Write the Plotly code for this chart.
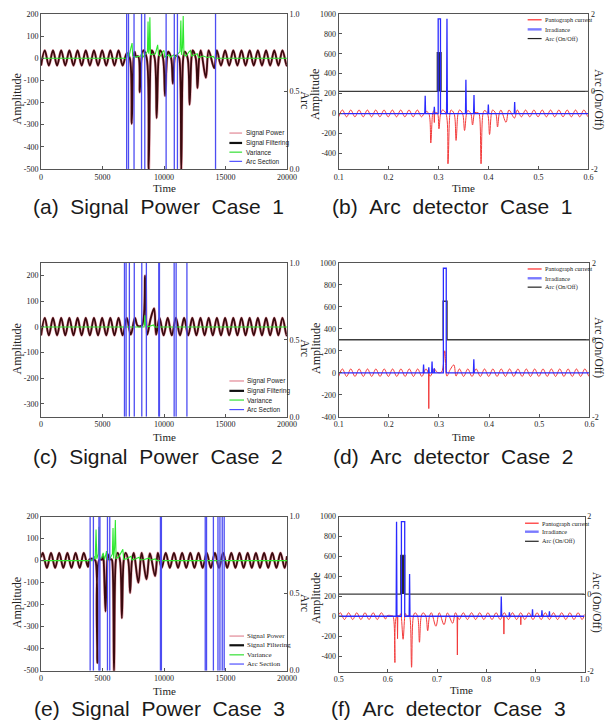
import plotly.graph_objects as go

W, H = 616, 728
FS = 40000.0  # samples per second (Time axis of the left panels is in samples)

# ---------------- data ----------------
# Case 1 : signal key points (time in samples, amplitude)
c1_t = [0, 300, 633, 967, 1300, 1633, 1967, 2300, 2633, 2967, 3300, 3633, 3967, 4300, 4633, 4967, 5300, 5633, 5967, 6300, 6633,
        6967, 7216, 7376, 7536, 7620, 7720, 7900, 8028, 8170, 8320,
        8592, 8752, 8912, 9000, 9240, 9400, 9560, 9680, 9920, 10080,
        10240, 10340, 10580, 10720, 10860, 10920, 11150, 11240, 11400, 11560,
        11680, 11920, 12080, 12230, 12330, 12580, 12720, 12860, 12990, 13400,
        13633, 14080, 14300, 14633, 14967, 15300, 15633, 15967, 16300, 16633,
        16967, 17300, 17633, 17967, 18300, 18633, 18967, 19300, 19633, 19967, 20000]
c1_v = [-33, 35, -33, 35, -33, 35, -33, 35, -33, 35, -33, 35, -33, 35, -33, 35, -33, 35, -33, 35, -33,
        22, 0, -296, 5, 28, 8, 8, -154, 0, 35,
        0, -505, 0, 35, 0, -270, 0, 35, 0, -170,
        0, 30, 0, -115, 0, 10, 8, 0, -505, 0,
        30, 0, -210, 0, 35, 0, -135, 0, 35, -88,
        35, -45, 35, -33, 35, -33, 35, -33, 35, -33,
        35, -33, 35, -33, 35, -33, 35, -33, 35, -33, -32]
c1_var_t = [0, 6950, 7100, 7150, 7300, 7400, 7450, 7600, 8100, 8200, 8300, 8650, 8700, 8750, 8800, 8850, 8900, 9300, 9400, 9480,
            9550, 9700, 9900, 10000, 10050, 10400, 10500, 10800, 10900, 11300, 11370, 11420, 11500, 11560, 11620, 11800, 12050, 12150, 12250, 12500,
            12700, 12800, 13200, 13500, 14000, 14100, 20000]
c1_var_v = [0, 0, 30, 5, 45, 68, 10, 5, 10, 25, 5, 30, 165, 20, 40, 185, 15, 20, 50, 60,
            15, 10, 30, 35, 5, 15, 3, 15, 5, 30, 170, 15, 50, 190, 15, 10, 30, 35, 10, 15,
            20, 3, 10, 3, 8, 0, 0]
c1_arc_sections = [6960, 7110, 7560, 8170, 8435, 10170, 10835, 11090, 14190]
c1_t0 = 0.1
c1_narrow_t = [0.2915]
c1_narrow_v = [-90]
c1_irr_t = [0.2732, 0.2915, 0.3168, 0.3547, 0.3709, 0.3996, 0.4523]
c1_irr_v = [178, 68, 950, 340, 185, 90, 115]
c1_irr_pulse = [0.2992, 0.3038, 950]
c1_arc_on = [0.2975, 0.3050]

# Case 2
c2_t = [0, 300, 633, 967, 1300, 1633, 1967, 2300, 2633, 2967, 3300, 3633, 3967, 4300, 4633, 4967, 5300, 5633, 5967, 6300,
        6633, 6967, 7300, 7633, 7850, 8200, 8464, 8633, 8900, 9190, 9360, 9633, 9967, 10300, 10633, 10967, 11300, 11633, 11967, 12300,
        12633, 12967, 13300, 13633, 13967, 14300, 14633, 14967, 15300, 15633, 15967, 16300, 16633, 16967, 17300, 17633, 17967, 18300, 18633, 18967,
        19300, 19633, 19967, 20000]
c2_v = [-33, 35, -33, 35, -33, 35, -33, 35, -33, 35, -33, 35, -33, 35, -33, 35, -33, 35, -33, 35,
        -33, 35, -30, 35, 5, 6, 200, -30, 30, 72, -30, 35, -33, 35, -33, 35, -33, 35, -33, 35,
        -33, 35, -33, 35, -33, 35, -33, 35, -33, 35, -33, 35, -33, 35, -33, 35, -33, 35, -33, 35,
        -33, 35, -33, -32]
c2_var_t = [0, 8380, 8440, 8490, 8560, 8620, 9150, 9230, 20000]
c2_var_v = [0, 0, 45, 5, 15, 0, 8, 0, 0]
c2_arc_sections = [6782, 6915, 7181, 7580, 8191, 8564, 9574, 9628, 10824, 10984, 11862]
c2_t0 = 0.1
c2_narrow_t = [0.2797]
c2_narrow_v = [-325]
c2_irr_t = [0.2693, 0.2797, 0.2862, 0.2905, 0.3695, 0.4535]
c2_irr_v = [76, 50, 103, 40, 124, 10]
c2_irr_pulse = [0.3088, 0.3145, 950]
c2_arc_on = [0.3083, 0.3161]

# Case 3
c3_t = [0, 140, 473, 807, 1140, 1473, 1807, 2140, 2473, 2807, 3140, 3473, 3807, 3950, 4300, 4420, 4575, 4730, 4970, 5030,
        5090, 5240, 5380, 5440, 5520, 5720, 5780, 5930, 6080, 6220,
        6420, 6570, 6720, 6870, 7090, 7240, 7390, 7540, 7910, 8180,
        8570, 8850, 9270, 9500, 9807, 10140, 10473, 10807, 11140, 11473,
        11807, 12140, 12473, 12807, 13140, 13473, 13807, 14140, 14473, 14807,
        15140, 15473, 15807, 16140, 16473, 16807, 17140, 17473, 17807, 18140,
        18473, 18807, 19140, 19473, 19807, 20000]
c3_v = [15, 35, -33, 35, -33, 35, -33, 35, -33, 35, -33, 35, -28, 6, 6, 0, -465, 3, 6, 25,
        0, -231, 0, 28, 6, 6, 0, -512, 0, 35,
        0, -261, 0, 35, 0, -146, 0, 35, -100, 35,
        -85, 33, -70, 35, -33, 35, -33, 35, -33, 35,
        -33, 35, -33, 35, -33, 35, -33, 35, -33, 35,
        -33, 35, -33, 35, -33, 35, -33, 35, -33, 35,
        -33, 35, -33, 35, -33, 20]
c3_var_t = [0, 4150, 4300, 4400, 4470, 4530, 4650, 4707, 4760, 4950, 5050, 5150, 5280, 5320, 5380, 5600, 5800, 5850, 5900, 5980,
            6040, 6100, 6300, 6650, 6720, 7000, 7315, 7400, 7700, 7980, 8050, 8400, 8780, 8850, 9300, 9400, 20000]
c3_var_v = [0, 0, 20, 5, 141, 8, 30, 154, 8, 15, 35, 5, 30, 43, 5, 10, 30, 148, 10, 60,
            184, 10, 15, 51, 5, 10, 20, 3, 8, 15, 3, 5, 12, 2, 8, 0, 0]
c3_arc_sections = [3989, 4255, 4707, 4787, 5399, 5585, 9707, 9787, 13351, 13457, 14016, 14388, 14548, 14734, 14894]
c3_t0 = 0.5
c3_narrow_t = [0.6197, 0.7414, 0.8360, 0.8704]
c3_narrow_v = [-225, -389, -179, -85]
c3_irr_t = [0.6177, 0.6442, 0.8307, 0.8472, 0.8942, 0.9134, 0.9286]
c3_irr_v = [947, 425, 199, 40, 70, 60, 50]
c3_irr_pulse = [0.6276, 0.6343, 950]
c3_arc_on = [0.6263, 0.6343]

# tick labels
sig_x_ticks = [0, 5000, 10000, 15000, 20000]
sig_x_text = ["0", "5000", "10000", "15000", "20000"]
det1_x_ticks = [0.1, 0.2, 0.3, 0.4, 0.5, 0.6]
det1_x_text = ["0.1", "0.2", "0.3", "0.4", "0.5", "0.6"]
det3_x_ticks = [0.5, 0.6, 0.7, 0.8, 0.9, 1.0]
det3_x_text = ["0.5", "0.6", "0.7", "0.8", "0.9", "1.0"]
amp500_ticks = [200, 100, 0, -100, -200, -300, -400, -500]
amp500_text = ["200", "100", "0", "-100", "-200", "-300", "-400", "-500"]
amp300_ticks = [200, 100, 0, -100, -200, -300]
amp300_text = ["200", "100", "0", "-100", "-200", "-300"]
ampdet_ticks = [1000, 800, 600, 400, 200, 0, -200, -400]
ampdet_text = ["1000", "800", "600", "400", "200", "0", "-200", "-400"]
arc01_ticks = [0, 0.5, 1.0]
arc01_text = ["0.0", "0.5", "1.0"]
arc22_ticks = [-2, 0, 2]
arc22_text = ["-2", "0", "2"]

captions = ["(a)\u00a0\u00a0Signal\u00a0\u00a0Power\u00a0\u00a0Case\u00a0\u00a01",
            "(b)\u00a0\u00a0Arc\u00a0\u00a0detector\u00a0\u00a0Case\u00a0\u00a01",
            "(c)\u00a0\u00a0Signal\u00a0\u00a0Power\u00a0\u00a0Case\u00a0\u00a02",
            "(d)\u00a0\u00a0Arc\u00a0\u00a0detector\u00a0\u00a0Case\u00a0\u00a02",
            "(e)\u00a0\u00a0Signal\u00a0\u00a0Power\u00a0\u00a0Case\u00a0\u00a03",
            "(f)\u00a0\u00a0Arc\u00a0\u00a0detector\u00a0\u00a0Case\u00a0\u00a03"]
sig_legend_names = ["Signal Power", "Signal Filtering", "Variance", "Arc Section"]
det_legend_names = ["Pantograph current", "Irradiance", "Arc (On/Off)"]

# ---------------- styling / layout geometry (pixels) ----------------
PANELS = {
    1: dict(x=(37, 289), y=(10, 167)),
    2: dict(x=(342, 598), y=(10, 167)),
    3: dict(x=(37, 289), y=(262, 418)),
    4: dict(x=(342, 599), y=(262, 418)),
    5: dict(x=(37, 289), y=(519, 675)),
    6: dict(x=(342, 594), y=(519, 676)),
}
SERIF = "Liberation Serif"
SANS = "Liberation Sans"
C_POWER = "#e9a6b0"
C_FILT = "#3a0a0e"
C_VAR = "#2ee82e"
C_ARCSEC = "#4d4df2"
C_RED = "#f23a3a"
C_BLUE = "#2a2aff"
C_ARC = "#3c3c3c"


def px(p):
    return p / W


def py(p):
    return 1 - p / H


def ax_id(kind, i):
    return kind if i == 1 else f"{kind}{i}"


axis_style = dict(showline=True, linecolor="#555", linewidth=1, ticks="inside", ticklen=3,
                  tickcolor="#555", showgrid=False, zeroline=False,
                  tickfont=dict(family=SERIF, size=8, color="#222"))

fig = go.Figure()
layout = dict(width=W, height=H, margin=dict(l=0, r=0, t=0, b=0), paper_bgcolor="white",
              plot_bgcolor="white", showlegend=False)
annotations = []
shapes = []


def add_text(text, x, y, size, family=SERIF, angle=0, xanchor="center", color="#222"):
    annotations.append(dict(text=text, x=px(x), y=py(y), xref="paper", yref="paper",
                            showarrow=False, textangle=angle, xanchor=xanchor, yanchor="middle",
                            font=dict(family=family, size=size, color=color)))


def add_legend(x0, x1, tx, rows, names, styles, family, size):
    for r, name, (col, wid) in zip(rows, names, styles):
        shapes.append(dict(type="line", xref="paper", yref="paper", x0=px(x0), x1=px(x1),
                           y0=py(r), y1=py(r), line=dict(color=col, width=wid)))
        add_text(name, tx, r, size, family=family, xanchor="left")


def setup_axes(i, xr, xt, xtt, left_r, lt, ltt, right_r, rt, rtt, left_is_base):
    p = PANELS[i]
    xd = [px(p["x"][0]), px(p["x"][1])]
    yd = [py(p["y"][1]), py(p["y"][0])]
    layout["xaxis" if i == 1 else f"xaxis{i}"] = dict(domain=xd, anchor=ax_id("y", i), range=xr,
                                                      tickvals=xt, ticktext=xtt, mirror=True, **axis_style)
    left = dict(range=left_r, tickvals=lt, ticktext=ltt, side="left", **axis_style)
    right = dict(range=right_r, tickvals=rt, ticktext=rtt, side="right", **axis_style)
    if left_is_base:
        base, over = left, right
    else:
        base, over = right, left
    base.update(domain=yd, anchor=ax_id("x", i))
    over.update(overlaying=ax_id("y", i), anchor=ax_id("x", i))
    layout["yaxis" if i == 1 else f"yaxis{i}"] = base
    layout[f"yaxis{i + 6}"] = over


def signal_panel(i, t, v, var_t, var_v, arc_secs, amp_r, amp_t, amp_tt):
    setup_axes(i, [0, 20000], sig_x_ticks, sig_x_text, amp_r, amp_t, amp_tt,
               [0, 1], arc01_ticks, arc01_text, True)
    xa, ya, ya2 = ax_id("x", i), ax_id("y", i), f"y{i + 6}"
    fig.add_trace(go.Scatter(x=t, y=v, mode="lines", name=sig_legend_names[0], xaxis=xa, yaxis=ya,
                             line=dict(color=C_POWER, width=2.8, shape="spline")))
    fig.add_trace(go.Scatter(x=t, y=v, mode="lines", name=sig_legend_names[1], xaxis=xa, yaxis=ya,
                             line=dict(color=C_FILT, width=1.8, shape="spline")))
    fig.add_trace(go.Scatter(x=var_t, y=var_v, mode="lines", name=sig_legend_names[2], xaxis=xa, yaxis=ya,
                             line=dict(color=C_VAR, width=1.1)))
    ax_, ay_ = [], []
    for s in arc_secs:
        ax_ += [s, s, None]
        ay_ += [0, 1, None]
    fig.add_trace(go.Scatter(x=ax_, y=ay_, mode="lines", name=sig_legend_names[3], xaxis=xa, yaxis=ya2,
                             line=dict(color=C_ARCSEC, width=1.3)))


def detector_panel(i, t_samples, v, t0, xr, xt, xtt, amp_r, narrow_t, narrow_v,
                   irr_t, irr_v, irr_pulse, arc_on, filled):
    setup_axes(i, xr, xt, xtt, amp_r, ampdet_ticks, ampdet_text,
               [-2, 2], arc22_ticks, arc22_text, False)
    xa, ybase, yover = ax_id("x", i), ax_id("y", i), f"y{i + 6}"
    a, b = arc_on
    fig.add_trace(go.Scatter(x=[xr[0], a, a, b, b, xr[1]], y=[0, 0, 1, 1, 0, 0], mode="lines",
                             name=det_legend_names[2], xaxis=xa, yaxis=ybase,
                             fill="tozeroy" if filled else None, fillcolor="#2a2a2a",
                             line=dict(color=C_ARC, width=1.4)))
    secs = [t0 + s / FS for s in t_samples]
    fig.add_trace(go.Scatter(x=secs, y=v, mode="lines", name=det_legend_names[0], xaxis=xa, yaxis=yover,
                             line=dict(color=C_RED, width=1, shape="spline")))
    d = 0.0006
    nx, ny = [], []
    for tt, vv in zip(narrow_t, narrow_v):
        nx += [tt - d, tt, tt + d, None]
        ny += [0, vv, 0, None]
    fig.add_trace(go.Scatter(x=nx, y=ny, mode="lines", name=det_legend_names[0], xaxis=xa, yaxis=yover,
                             line=dict(color=C_RED, width=1)))
    events = [(tt, "s", vv) for tt, vv in zip(irr_t, irr_v)] + [(irr_pulse[0], "p", irr_pulse)]
    events.sort(key=lambda e: e[0])
    ix, iy = [xr[0]], [0]
    dd = 0.0008
    for e in events:
        if e[1] == "s":
            ix += [e[0] - dd, e[0], e[0] + dd]
            iy += [0, e[2], 0]
        else:
            p0, p1, hh = e[2]
            ix += [p0, p0, p1, p1]
            iy += [0, hh, hh, 0]
    ix.append(xr[1])
    iy.append(0)
    fig.add_trace(go.Scatter(x=ix, y=iy, mode="lines", name=det_legend_names[1], xaxis=xa, yaxis=yover,
                             line=dict(color=C_BLUE, width=1.3)))


signal_panel(1, c1_t, c1_v, c1_var_t, c1_var_v, c1_arc_sections, [-500, 200], amp500_ticks, amp500_text)
signal_panel(3, c2_t, c2_v, c2_var_t, c2_var_v, c2_arc_sections, [-350, 250], amp300_ticks, amp300_text)
signal_panel(5, c3_t, c3_v, c3_var_t, c3_var_v, c3_arc_sections, [-500, 200], amp500_ticks, amp500_text)
detector_panel(2, c1_t, c1_v, c1_t0, [0.1, 0.6], det1_x_ticks, det1_x_text, [-556, 1000],
               c1_narrow_t, c1_narrow_v, c1_irr_t, c1_irr_v, c1_irr_pulse, c1_arc_on, True)
detector_panel(4, c2_t, c2_v, c2_t0, [0.1, 0.6], det1_x_ticks, det1_x_text, [-400, 1000],
               c2_narrow_t, c2_narrow_v, c2_irr_t, c2_irr_v, c2_irr_pulse, c2_arc_on, False)
detector_panel(6, c3_t, c3_v, c3_t0, [0.5, 1.0], det3_x_ticks, det3_x_text, [-556, 1000],
               c3_narrow_t, c3_narrow_v, c3_irr_t, c3_irr_v, c3_irr_pulse, c3_arc_on, True)

# axis titles
for (ax_x, ay), (tx, ty), (rx, ry) in [
    ((12, 96), (163, 186), (308, 97)),
    ((12, 349), (163, 438), (308, 348)),
    ((12, 606), (163, 696), (308, 606)),
]:
    add_text("Amplitude", ax_x, ay, 12, angle=-90)
    add_text("Time", tx, ty, 11)
    add_text("Arc", rx, ry, 12, angle=90)
for (ax_x, ay), (tx, ty), (rx, ry) in [
    ((318, 92), (470, 186), (617, 97)),
    ((318, 349), (470, 438), (617, 348)),
    ((318, 602), (468, 695), (615, 606)),
]:
    add_text("Amplitude", ax_x, ay, 12, angle=-90)
    add_text("Time", tx, ty, 11)
    add_text("Arc (On/Off)", rx, ry, 11.5, angle=90, xanchor="right")

# captions
for cap, (cx, cy) in zip(captions, [(157, 205), (458, 205), (157, 458), (459, 458), (158, 713), (455, 713)]):
    add_text(cap, cx, cy, 21, family=SANS, color="#1a1a1a")

# legends (drawn manually to match the compact original)
sig_styles = [(C_POWER, 1.6), ("#111111", 2.2), ("#22dd22", 1.1), ("#4040ff", 1.1)]
det_styles = [("#ff2a2a", 1.2), ("#7a7aff", 2.4), ("#222222", 1.2)]
add_legend(230, 243, 245, [130.7, 140.7, 150, 159.3], sig_legend_names, sig_styles, SANS, 6.5)
add_legend(230, 245, 246, [381.7, 391.7, 401, 410.7], sig_legend_names, sig_styles, SANS, 6.5)
add_legend(230, 245, 246.5, [640, 649.3, 659, 668.3], sig_legend_names, sig_styles, SERIF, 7)
add_legend(535.7, 550, 551, [16, 25.7, 35], det_legend_names, det_styles, SERIF, 6.2)
add_legend(535.7, 550, 551, [268.3, 277.7, 286.7], det_legend_names, det_styles, SERIF, 6.2)
add_legend(533, 547, 548, [525.7, 534.3, 544], det_legend_names, det_styles, SERIF, 6.2)

layout["annotations"] = annotations
layout["shapes"] = shapes
fig.update_layout(**layout)
# remove the default page margin so the 616x728 figure fills the window exactly
fig.write_html("out.html", config={"displayModeBar": False},
               post_script="document.body.style.margin='0';document.body.style.overflow='hidden';")
